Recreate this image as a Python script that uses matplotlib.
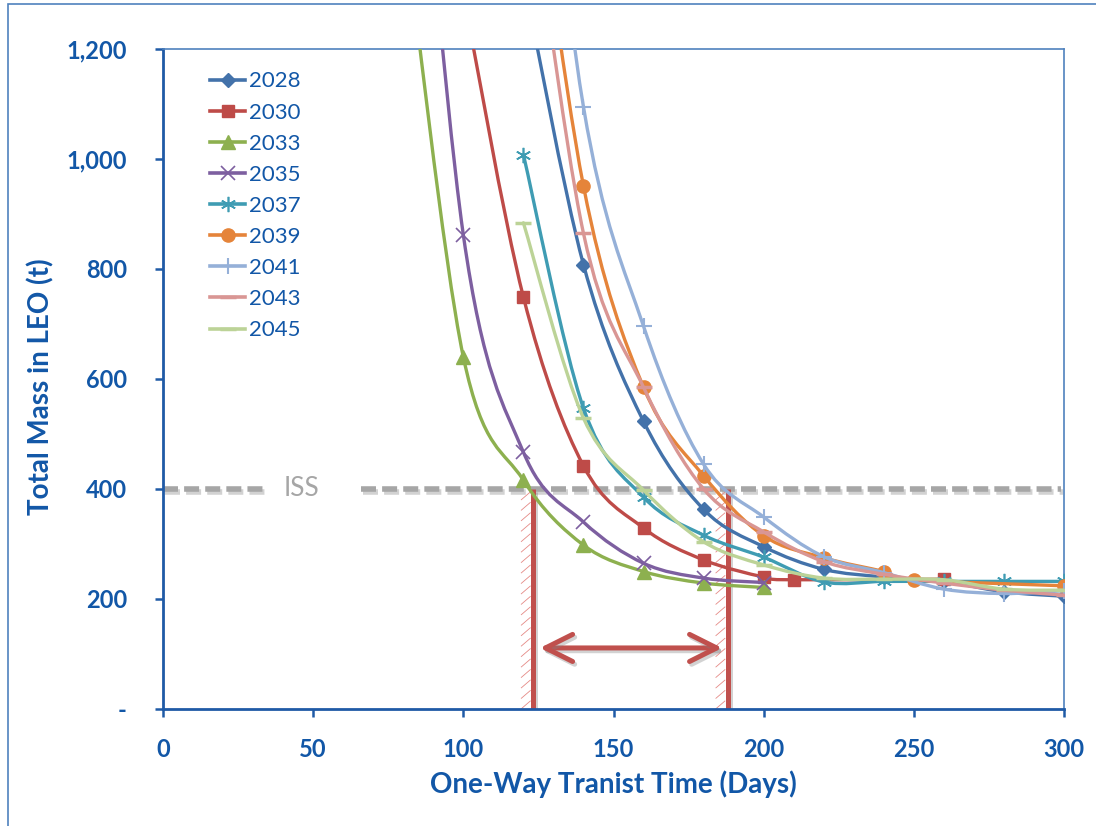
import matplotlib
matplotlib.use("Agg")
import matplotlib.pyplot as plt
import matplotlib.patheffects as pe
from matplotlib.path import Path
from matplotlib.patches import PathPatch, Rectangle
from matplotlib.lines import Line2D
from matplotlib.collections import LineCollection
from matplotlib.ticker import FuncFormatter
import numpy as np

plt.rcParams['font.family'] = ['Lato', 'DejaVu Sans']

# values (days, tonnes in LEO)
years = ["2028", "2030", "2033", "2035", "2037", "2039", "2041", "2043", "2045"]

days_2028 = [120, 140, 160, 180, 200, 220, 240, 260, 280, 300]
mass_2028 = [1330, 808, 523, 363, 295, 254, 240, 232, 213, 205]

days_2030 = [100, 120, 140, 160, 180, 200, 210, 260]
mass_2030 = [1300, 749, 442, 329, 271, 240, 235, 236]

days_2033 = [80, 100, 120, 140, 160, 180, 200]
mass_2033 = [1450, 640, 416, 298, 250, 229, 221]

days_2035 = [80, 100, 120, 140, 160, 180, 200]
mass_2035 = [2000, 862, 467, 340, 265, 238, 230]

days_2037 = [120, 140, 160, 180, 200, 220, 240, 260, 280, 300]
mass_2037 = [1008, 547, 385, 316, 276, 231, 232, 232, 232, 232]

days_2039 = [120, 140, 160, 180, 200, 220, 240, 250, 300]
mass_2039 = [1700, 951, 585, 424, 315, 275, 250, 235, 224]

days_2041 = [120, 140, 160, 180, 200, 220, 240, 260, 280, 300]
mass_2041 = [2000, 1095, 696, 445, 349, 277, 248, 218, 210, 215]

days_2043 = [120, 140, 160, 180, 200, 220, 240, 260, 280, 300]
mass_2043 = [1600, 865, 585, 400, 322, 268, 245, 229, 216, 207]

days_2045 = [120, 140, 160, 180, 200, 220, 240, 260, 280, 300]
mass_2045 = [884, 529, 398, 304, 262, 238, 236, 235, 218, 216]

series_days = [days_2028, days_2030, days_2033, days_2035, days_2037,
               days_2039, days_2041, days_2043, days_2045]
series_mass = [mass_2028, mass_2030, mass_2033, mass_2035, mass_2037,
               mass_2039, mass_2041, mass_2043, mass_2045]

iss_level = 400
window_days = [123.2, 188.0]
arrow_level = 111

# styles
colors = ["#4372AA", "#BE4B48", "#8DB04F", "#7D5FA0", "#3F9CB3",
          "#E5843A", "#95B0D8", "#D99694", "#BCD397"]
markers = ["D", "s", "^", "x", (6, 2, 0), "o", "+", "_", "_"]
msizes = [7.5, 9, 9.5, 9.5, 11, 9.5, 12, 11, 11]
mews = [1, 1, 1, 1.2, 1.2, 1, 1.5, 2.5, 2.5]

blue_text = "#1257A7"
red = "#C0504D"


def smooth_path(xs, ys):
    # Excel style smoothed line: cubic bezier through every point
    pts = np.column_stack([xs, ys]).astype(float)
    n = len(pts)
    verts = [pts[0]]
    codes = [Path.MOVETO]
    for i in range(n - 1):
        p0 = pts[i - 1] if i > 0 else pts[i]
        p1 = pts[i]
        p2 = pts[i + 1]
        p3 = pts[i + 2] if i + 2 < n else pts[i + 1]
        c1 = p1 + (p2 - p0) / 6.0
        c2 = p2 - (p3 - p1) / 6.0
        verts += [c1, c2, p2]
        codes += [Path.CURVE4] * 3
    return Path(verts, codes)


fig = plt.figure(figsize=(10.96, 8.26), dpi=100)
ax = fig.add_axes([163 / 1096, 1 - 709 / 826, 901 / 1096, 660 / 826])

# outer chart border
fig.patches.append(Rectangle((8 / 1096, -0.05), 1.2, 1 - 4 / 826 + 0.05,
                             transform=fig.transFigure, fill=False,
                             edgecolor="#4F81BD", lw=1.2))

# ISS reference line (broken for the label)
shadow = [pe.SimpleLineShadow(offset=(1.5, -2), shadow_color="gray", alpha=0.35), pe.Normal()]
for seg in ([0, 34], [66, 299]):
    ax.plot(seg, [iss_level, iss_level], color="#A6A6A6", lw=4,
            dashes=(2.7, 1.1), dash_capstyle="butt", zorder=1, path_effects=shadow)
ax.text(46.2, iss_level, "ISS", color="#A6A6A6", fontsize=19,
        ha="center", va="center", zorder=1)

# transit window markers
for d in window_days:
    ax.plot([d, d], [0, iss_level], color=red, lw=3.6, zorder=2,
            solid_capstyle="butt", path_effects=shadow)
    segs = []
    for y0 in np.arange(0, iss_level - 10, 19):
        segs.append([(d - 4.0, y0), (d - 0.8, y0 + 15)])
    ax.add_collection(LineCollection(segs, colors="#E58A86", linewidths=0.6, zorder=2))

ax.annotate("", xy=(window_days[1] - 1.8, arrow_level), xytext=(window_days[0] + 2.3, arrow_level),
            arrowprops=dict(arrowstyle="<->,head_length=1.3,head_width=0.65",
                            color=red, lw=3.6, shrinkA=0, shrinkB=0, mutation_scale=15,
                            path_effects=shadow),
            zorder=2)

# series
handles = []
for i, yr in enumerate(years):
    patch = PathPatch(smooth_path(series_days[i], series_mass[i]), fill=False,
                      edgecolor=colors[i], lw=2.4, zorder=3 + i, capstyle="round")
    ax.add_patch(patch)
    ax.plot(series_days[i], series_mass[i], ls="none", marker=markers[i],
            ms=msizes[i], mew=mews[i], color=colors[i], zorder=3 + i)
    handles.append(Line2D([0], [0], color=colors[i], lw=2.6, marker=markers[i],
                          ms=msizes[i], mew=mews[i]))

leg = ax.legend(handles, years, loc="upper left", bbox_to_anchor=(0.052, 0.966),
                frameon=False, fontsize=16, handlelength=1.6, handletextpad=0.15,
                labelspacing=0.5, borderpad=0, borderaxespad=0)
for t in leg.get_texts():
    t.set_color(blue_text)

ax.set_xlim(0, 300)
ax.set_ylim(0, 1200)
ax.set_xticks(np.arange(0, 301, 50))
ax.set_yticks(np.arange(0, 1201, 200))
ax.yaxis.set_major_formatter(FuncFormatter(lambda v, p: "-" if v == 0 else f"{v:,.0f}"))

for side in ["left", "bottom"]:
    ax.spines[side].set_color("#1F5AA6")
    ax.spines[side].set_linewidth(2)
for side in ["top", "right"]:
    ax.spines[side].set_color("#4F81BD")
    ax.spines[side].set_linewidth(1.2)

ax.tick_params(axis="both", direction="out", length=6, width=1.8, color="#1F5AA6",
               labelcolor=blue_text, labelsize=17)
ax.tick_params(axis="y", pad=20)
ax.tick_params(axis="x", pad=15)
for lbl in ax.get_xticklabels() + ax.get_yticklabels():
    lbl.set_fontweight("bold")

ax.set_xlabel("One-Way Tranist Time (Days)", fontsize=20, fontweight="bold", color=blue_text)
ax.set_ylabel("Total Mass in LEO (t)", fontsize=20, fontweight="bold", color=blue_text)
ax.xaxis.set_label_coords(0.5, -0.093)
ax.yaxis.set_label_coords(-0.12, 0.488)

fig.savefig("out.png", dpi=100)
